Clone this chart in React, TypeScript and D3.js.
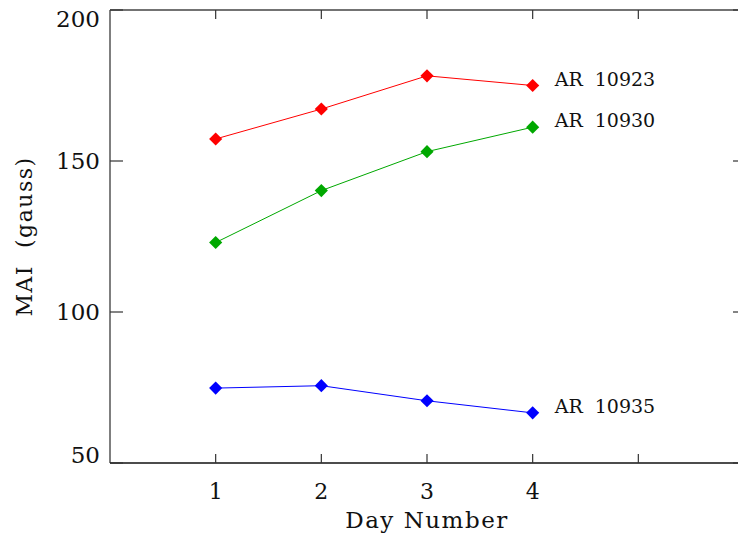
import * as d3 from 'd3';

const days = [1, 2, 3, 4];
const xTicks = [1, 2, 3, 4, 5];
const xTickLabels = ['1', '2', '3', '4', ''];
const yTicks = [50, 100, 150, 200];

const ar10923 = [157.3, 167.2, 178.2, 175.0];
const ar10930 = [123.0, 140.2, 153.1, 161.2];
const ar10935 = [74.8, 75.6, 70.6, 66.6];

const seriesNames = ['AR  10923', 'AR  10930', 'AR  10935'];
const seriesColors = ['#ff0000', '#00a800', '#0000ff'];
const seriesValues = [ar10923, ar10930, ar10935];

const width = 738;
const height = 536;
const left = 110;
const right = 744;
const frameRight = 746;
const top = 10;
const bottom = 463;
const font = 'DejaVu Serif, serif';

// keep the end labels inside the window, as the original plot does
function yLabelBaseline(v: number, py: number) {
  if (v === 200) return 27;
  if (v === 50) return 463;
  return py + 8;
}

export default function App() {
  const x = d3.scaleLinear().domain([0, 6]).range([left, right]);
  const y = d3.scaleLinear().domain([50, 200]).range([bottom, top]);

  const line = d3
    .line<number>()
    .x((_, i) => x(days[i]))
    .y((d) => y(d));

  const diamond = d3.symbol().type(d3.symbolDiamond2).size(110)();

  return (
    <svg
      width={width}
      height={height}
      style={{ position: 'absolute', left: 0, top: 0, background: '#fff' }}
    >
      {/* frame */}
      <line x1={left} y1={top} x2={frameRight} y2={top} stroke="#444" strokeWidth={1.5} />
      <line x1={left} y1={top} x2={left} y2={bottom} stroke="#555" strokeWidth={1.5} />
      <line x1={left} y1={bottom} x2={frameRight} y2={bottom} stroke="#111" strokeWidth={1.5} />
      <line x1={frameRight} y1={top} x2={frameRight} y2={bottom} stroke="#444" strokeWidth={1.5} />

      {/* x ticks */}
      {xTicks.map((t, i) => (
        <g key={'xt' + t}>
          <line x1={x(t)} x2={x(t)} y1={bottom} y2={bottom - 9} stroke="#333" strokeWidth={1.2} />
          <line x1={x(t)} x2={x(t)} y1={top} y2={top + 9} stroke="#333" strokeWidth={1.2} />
          <text
            x={x(t)}
            y={499}
            textAnchor="middle"
            fontFamily={font}
            fontSize={22}
            fill="#111"
          >
            {xTickLabels[i]}
          </text>
        </g>
      ))}

      {/* y ticks */}
      {yTicks.map((t) => (
        <g key={'yt' + t}>
          <line x1={left} x2={left + 13} y1={y(t)} y2={y(t)} stroke="#333" strokeWidth={1.2} />
          <line x1={frameRight} x2={frameRight - 13} y1={y(t)} y2={y(t)} stroke="#333" strokeWidth={1.2} />
          <text
            x={100}
            y={yLabelBaseline(t, y(t))}
            textAnchor="end"
            fontFamily={font}
            fontSize={23}
            fill="#111"
          >
            {t}
          </text>
        </g>
      ))}

      {/* series */}
      {seriesValues.map((vals, s) => (
        <g key={seriesNames[s]}>
          <path d={line(vals) ?? ''} fill="none" stroke={seriesColors[s]} strokeWidth={1} />
          {vals.map((v, i) => (
            <path
              key={i}
              d={diamond ?? ''}
              transform={`translate(${x(days[i])},${y(v)})`}
              fill={seriesColors[s]}
            />
          ))}
          <text
            x={x(4) + 22}
            y={y(vals[3])}
            fontFamily={font}
            fontSize={19}
            fill="#111"
            style={{ whiteSpace: 'pre' }}
          >
            {seriesNames[s]}
          </text>
        </g>
      ))}

      {/* axis titles */}
      <text
        x={x(3)}
        y={528}
        textAnchor="middle"
        fontFamily={font}
        fontSize={23}
        fill="#111"
        letterSpacing={1.5}
        style={{ whiteSpace: 'pre' }}
      >
        Day Number
      </text>
      <text
        transform={`translate(32,${(top + bottom) / 2}) rotate(-90)`}
        textAnchor="middle"
        fontFamily={font}
        fontSize={22}
        fill="#111"
        letterSpacing={1.5}
        style={{ whiteSpace: 'pre' }}
      >
        MAI  (gauss)
      </text>
    </svg>
  );
}
